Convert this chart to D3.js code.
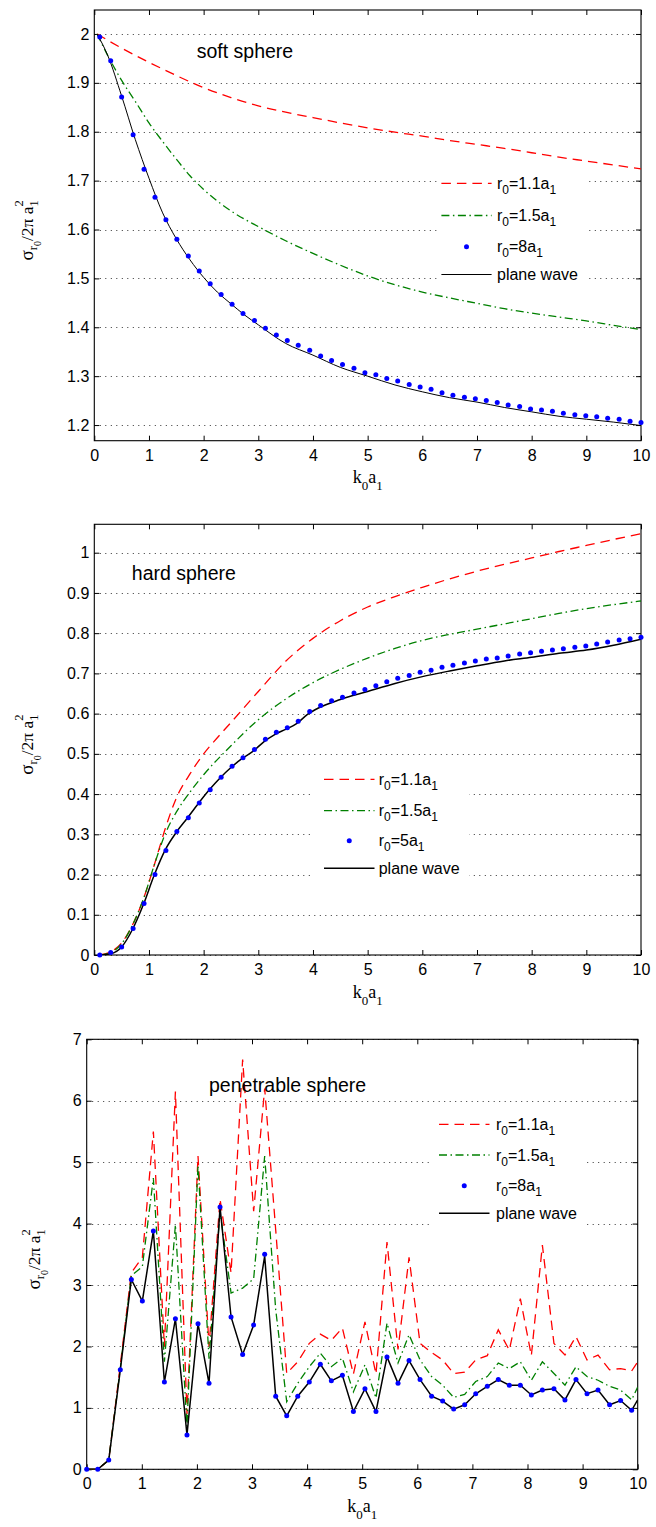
<!DOCTYPE html>
<html><head><meta charset="utf-8">
<script src="https://cdn.jsdelivr.net/npm/d3@7"></script>
<style>body{margin:0;background:#fff;overflow:hidden}</style>
</head><body>
<svg id="c" width="656" height="1527"></svg>
<script>
// ---------- shared ----------
const xTicks = [0,1,2,3,4,5,6,7,8,9,10];
const legendNames1 = ["r0=1.1a1","r0=1.5a1","r0=8a1","plane wave"];
const legendNames2 = ["r0=1.1a1","r0=1.5a1","r0=5a1","plane wave"];
const legendNames3 = ["r0=1.1a1","r0=1.5a1","r0=8a1","plane wave"];

// ---------- panel 1: soft sphere ----------
const yTicks1 = [1.2,1.3,1.4,1.5,1.6,1.7,1.8,1.9,2];
const yLabels1 = ["1.2","1.3","1.4","1.5","1.6","1.7","1.8","1.9","2"];
const redX1 = [0.05,0.5,1,1.5,2,2.5,3,3.5,4,4.5,5,5.5,6,6.5,7,7.5,8,8.5,9,9.5,10];
const redY1 = [2.0,1.971,1.942,1.915,1.89,1.87,1.853,1.84,1.829,1.818,1.808,1.799,1.791,1.782,1.774,1.766,1.757,1.748,1.74,1.732,1.724];
const greenX1 = [0.05,0.25,0.5,0.75,1,1.25,1.5,1.75,2,2.5,3,3.5,4,4.5,5,5.5,6,6.5,7,7.5,8,8.5,9,9.5,10];
const greenY1 = [2.0,1.955,1.905,1.862,1.818,1.78,1.744,1.71,1.682,1.638,1.606,1.577,1.551,1.527,1.505,1.487,1.472,1.46,1.449,1.438,1.429,1.421,1.413,1.404,1.395];
const dotX1 = [0.1,0.3,0.5,0.71,0.91,1.11,1.31,1.51,1.72,1.92,2.12,2.32,2.52,2.72,2.93,3.13,3.33,3.53,3.73,3.94,4.14,4.34,4.54,4.75,4.95,5.15,5.35,5.55,5.76,5.96,6.16,6.36,6.56,6.77,6.97,7.17,7.37,7.57,7.78,7.98,8.18,8.38,8.58,8.79,8.99,9.19,9.39,9.6,9.8,10.0];
const dotY1 = [1.994,1.945,1.871,1.794,1.723,1.666,1.620,1.580,1.546,1.515,1.489,1.467,1.447,1.428,1.414,1.398,1.384,1.373,1.363,1.353,1.341,1.332,1.324,1.316,1.307,1.303,1.295,1.290,1.283,1.278,1.273,1.266,1.261,1.257,1.254,1.250,1.246,1.241,1.238,1.233,1.231,1.228,1.224,1.221,1.219,1.217,1.214,1.212,1.208,1.205];
const planeX1 = [0.05,0.25,0.5,0.75,1,1.25,1.5,1.75,2,2.25,2.5,2.75,3,3.5,4,4.5,5,5.5,6,6.5,7,7.5,8,8.5,9,9.5,10];
const planeY1 = [2.0,1.955,1.873,1.784,1.705,1.634,1.581,1.538,1.502,1.472,1.448,1.425,1.405,1.367,1.343,1.318,1.300,1.282,1.268,1.256,1.247,1.236,1.227,1.218,1.212,1.206,1.199];

// ---------- panel 2: hard sphere ----------
const yTicks2 = [0,0.1,0.2,0.3,0.4,0.5,0.6,0.7,0.8,0.9,1];
const yLabels2 = ["0","0.1","0.2","0.3","0.4","0.5","0.6","0.7","0.8","0.9","1"];
const redX2 = [0.1,0.3,0.5,0.7,0.9,1.1,1.3,1.5,1.75,2,2.25,2.5,3,3.5,4,4.5,5,5.5,6,6.5,7,7.5,8,8.5,9,9.5,10];
const redY2 = [0,0.008,0.03,0.075,0.14,0.225,0.315,0.39,0.45,0.5,0.54,0.578,0.655,0.73,0.787,0.831,0.865,0.891,0.914,0.935,0.954,0.971,0.987,1.003,1.018,1.033,1.047];
const greenX2 = [0.1,0.3,0.5,0.7,0.9,1.1,1.3,1.5,1.75,2,2.5,3,3.5,4,4.5,5,5.5,6,6.5,7,7.5,8,8.5,9,9.5,10];
const greenY2 = [0,0.006,0.028,0.075,0.14,0.225,0.302,0.355,0.405,0.448,0.52,0.585,0.636,0.677,0.71,0.738,0.762,0.782,0.797,0.81,0.823,0.836,0.849,0.861,0.871,0.88];
const dotX2 = [0.1,0.3,0.5,0.71,0.91,1.11,1.31,1.51,1.72,1.92,2.12,2.32,2.52,2.72,2.93,3.13,3.33,3.53,3.73,3.94,4.14,4.34,4.54,4.75,4.95,5.15,5.35,5.55,5.76,5.96,6.16,6.36,6.56,6.77,6.97,7.17,7.37,7.57,7.78,7.98,8.18,8.38,8.58,8.79,8.99,9.19,9.39,9.6,9.8,10.0];
const dotY2 = [0,0.006,0.02,0.066,0.128,0.2,0.26,0.307,0.341,0.378,0.411,0.442,0.469,0.49,0.511,0.536,0.554,0.565,0.581,0.605,0.62,0.632,0.641,0.651,0.66,0.669,0.679,0.688,0.695,0.703,0.708,0.715,0.72,0.726,0.731,0.736,0.738,0.743,0.748,0.751,0.755,0.758,0.761,0.765,0.768,0.773,0.778,0.783,0.786,0.79];
const planeX2 = [0.1,0.3,0.5,0.7,0.9,1.1,1.3,1.5,1.7,1.9,2.1,2.3,2.5,2.7,2.9,3.1,3.3,3.5,3.7,3.9,4.1,4.5,5,5.5,6,6.5,7,7.5,8,8.5,9,9.5,10];
const planeY2 = [0,0.003,0.02,0.064,0.126,0.2,0.262,0.305,0.34,0.376,0.41,0.44,0.466,0.488,0.506,0.53,0.548,0.561,0.575,0.598,0.614,0.635,0.655,0.675,0.692,0.706,0.719,0.731,0.74,0.75,0.758,0.77,0.785];

// ---------- panel 3: penetrable sphere ----------
const yTicks3 = [0,1,2,3,4,5,6,7];
const yLabels3 = ["0","1","2","3","4","5","6","7"];
const kX3 = [0,0.2,0.4,0.61,0.81,1.01,1.21,1.41,1.61,1.82,2.02,2.22,2.42,2.62,2.83,3.03,3.23,3.43,3.63,3.83,4.04,4.24,4.44,4.64,4.84,5.05,5.25,5.45,5.65,5.85,6.05,6.26,6.46,6.66,6.86,7.06,7.27,7.47,7.67,7.87,8.07,8.27,8.48,8.68,8.88,9.08,9.28,9.49,9.69,9.89,10];
const redY3 = [0,0,0.15,1.7,3.2,3.45,5.5,2.0,6.15,0.9,5.1,2.0,4.4,3.2,6.67,4.2,6.2,3.9,1.56,1.75,2.05,2.2,2.1,2.3,1.55,2.4,1.55,3.7,1.95,3.45,2.05,1.9,1.78,1.56,1.58,1.78,1.85,2.27,1.94,2.78,1.85,3.65,2.05,1.86,2.16,1.78,1.86,1.62,1.64,1.6,1.75];
const greenY3 = [0,0,0.15,1.65,3.15,3.3,4.74,1.75,3.98,0.7,4.95,1.8,4.2,2.87,2.95,3.1,5.1,2.6,1.1,1.4,1.67,1.89,1.67,1.81,1.26,1.7,1.16,2.38,1.73,2.19,1.78,1.51,1.37,1.17,1.22,1.43,1.51,1.73,1.64,1.75,1.45,1.75,1.56,1.37,1.67,1.51,1.45,1.35,1.29,1.13,1.34];
const dotX3 = [0,0.2,0.4,0.61,0.81,1.01,1.21,1.41,1.61,1.82,2.02,2.22,2.42,2.62,2.83,3.03,3.23,3.43,3.63,3.83,4.04,4.24,4.44,4.64,4.84,5.05,5.25,5.45,5.65,5.85,6.05,6.26,6.46,6.66,6.86,7.06,7.27,7.47,7.67,7.87,8.07,8.27,8.48,8.68,8.88,9.08,9.28,9.49,9.69,9.89];
const dotY3 = [0,0,0.15,1.62,3.09,2.74,3.88,1.42,2.45,0.56,2.37,1.40,4.27,2.48,1.87,2.35,3.50,1.19,0.87,1.19,1.42,1.71,1.44,1.53,0.94,1.31,0.94,1.83,1.40,1.77,1.46,1.19,1.11,0.98,1.05,1.23,1.35,1.46,1.37,1.37,1.21,1.29,1.31,1.13,1.46,1.23,1.29,1.05,1.12,0.96];
const planeY3 = [0,0,0.15,1.62,3.09,2.74,3.88,1.42,2.45,0.56,2.37,1.40,4.27,2.48,1.87,2.35,3.47,1.19,0.87,1.19,1.42,1.71,1.44,1.53,0.94,1.31,0.94,1.83,1.40,1.77,1.46,1.19,1.11,0.98,1.05,1.23,1.35,1.46,1.37,1.37,1.21,1.29,1.31,1.13,1.46,1.23,1.29,1.05,1.12,0.96,1.13];

// ---------- drawing ----------
const svg = d3.select('#c');
svg.append('rect').attr('width',656).attr('height',1527).attr('fill','#fff');
const SANS = "'Liberation Sans', Arial, Helvetica, sans-serif";
const SERIF = "'Liberation Serif', 'Times New Roman', serif";
const RED = '#ff0000', GREEN = '#008000', BLUE = '#0000ff';
const DASH = '9.5,6', DASHDOT = '8,3.5,1.5,3.5';
const DOT_R = 2.5;

function zip(xs, ys){ return xs.map((x,i)=>[x, ys[i]]); }

function drawPanel(cfg, idx){
  const x = d3.scaleLinear().domain([0,10]).range([cfg.left, cfg.right]);
  const y = d3.scaleLinear().domain(cfg.yDomain).range([cfg.bottom, cfg.top]);
  const g = svg.append('g');
  const clipId = 'clip'+idx;
  svg.append('clipPath').attr('id', clipId).append('rect')
    .attr('x', cfg.left).attr('y', cfg.top).attr('width', cfg.right-cfg.left).attr('height', cfg.bottom-cfg.top);

  // dotted horizontal grid
  g.append('g').selectAll('line').data(cfg.yTicks).join('line')
    .attr('x1', cfg.left).attr('x2', cfg.right)
    .attr('y1', d=>Math.round(y(d))+0.5).attr('y2', d=>Math.round(y(d))+0.5)
    .attr('stroke','#333').attr('stroke-width',1).attr('stroke-dasharray','1,4.5');

  // axes
  const styleAxis = sel => {
    sel.attr('font-family', SANS).attr('font-size', 16);
    sel.select('.domain').remove();
    sel.selectAll('.tick line').attr('stroke','#000').attr('stroke-width',1);
    sel.selectAll('.tick text').attr('fill','#000');
  };
  g.append('g').attr('transform',`translate(0,${cfg.bottom})`)
    .call(d3.axisBottom(x).tickValues(xTicks).tickSizeInner(-5).tickSizeOuter(0).tickPadding(8.5).tickFormat(d3.format('d')))
    .call(styleAxis);
  g.append('g').attr('transform',`translate(0,${cfg.top})`)
    .call(d3.axisTop(x).tickValues(xTicks).tickSizeInner(-5).tickSizeOuter(0).tickFormat(''))
    .call(styleAxis);
  g.append('g').attr('transform',`translate(${cfg.left},0)`)
    .call(d3.axisLeft(y).tickValues(cfg.yTicks).tickSizeInner(-5).tickSizeOuter(0).tickPadding(5).tickFormat((d,i)=>cfg.yLabels[i]))
    .call(styleAxis);
  g.append('g').attr('transform',`translate(${cfg.right},0)`)
    .call(d3.axisRight(y).tickValues(cfg.yTicks).tickSizeInner(-5).tickSizeOuter(0).tickFormat(''))
    .call(styleAxis);

  // frame
  g.append('rect').attr('x', cfg.left).attr('y', cfg.top)
    .attr('width', cfg.right-cfg.left).attr('height', cfg.bottom-cfg.top)
    .attr('fill','none').attr('stroke','#000').attr('stroke-width',1.1);

  // series
  const plot = g.append('g').attr('clip-path', `url(#${clipId})`);
  const line = d3.line().x(d=>x(d[0])).y(d=>y(d[1])).curve(cfg.curve);
  plot.append('path').attr('d', line(cfg.red)).attr('fill','none').attr('stroke',RED)
    .attr('stroke-width',1.3).attr('stroke-dasharray',DASH);
  plot.append('path').attr('d', line(cfg.green)).attr('fill','none').attr('stroke',GREEN)
    .attr('stroke-width',1.3).attr('stroke-dasharray',DASHDOT);
  plot.append('path').attr('d', line(cfg.plane)).attr('fill','none').attr('stroke','#000')
    .attr('stroke-width',cfg.blackW);
  g.append('g').selectAll('circle').data(cfg.dots).join('circle')
    .attr('cx', d=>x(d[0])).attr('cy', d=>y(d[1])).attr('r', DOT_R).attr('fill', BLUE);

  // title text
  g.append('text').attr('x', cfg.title.x).attr('y', cfg.title.y)
    .attr('font-family', SANS).attr('font-size', 19.5).attr('fill','#000').text(cfg.title.text);

  // legend
  const L = cfg.legend;
  const lg = g.append('g');
  lg.append('rect').attr('x', L.box[0]).attr('y', L.box[1]).attr('width', L.box[2]).attr('height', L.box[3]).attr('fill','#fff');
  const styles = [{c:RED, d:DASH}, {c:GREEN, d:DASHDOT}, null, {c:'#000', d:null}];
  cfg.names.forEach((name,i)=>{
    const ry = L.rows[i];
    if (i===2){
      lg.append('circle').attr('cx',(L.x1+L.x2)/2).attr('cy',ry).attr('r',DOT_R).attr('fill',BLUE);
    } else {
      const ln = lg.append('line').attr('x1',L.x1).attr('x2',L.x2).attr('y1',ry).attr('y2',ry)
        .attr('stroke',styles[i].c).attr('stroke-width', i===3?cfg.blackW:1.3);
      if (styles[i].d) ln.attr('stroke-dasharray', styles[i].d);
    }
    const t = lg.append('text').attr('x', L.tx).attr('y', ry+5.5).attr('font-family',SANS).attr('font-size',16).attr('fill','#000');
    if (name === 'plane wave'){ t.text(name); }
    else {
      const m = name.match(/^r0=(.*)a1$/);
      t.append('tspan').text('r');
      t.append('tspan').attr('font-size',12).attr('dy',5).text('0');
      t.append('tspan').attr('font-size',16).attr('dy',-5).text('='+m[1]+'a');
      t.append('tspan').attr('font-size',12).attr('dy',5).text('1');
    }
  });

  // x label  k0a1
  const cx = (cfg.left+cfg.right)/2;
  const xl = g.append('text').attr('x', cx).attr('y', cfg.bottom+42.5).attr('text-anchor','middle')
    .attr('font-family',SERIF).attr('font-size',18).attr('fill','#000');
  xl.append('tspan').text('k');
  xl.append('tspan').attr('font-size',13).attr('dy',7).text('0');
  xl.append('tspan').attr('font-size',18).attr('dy',-7).text('a');
  xl.append('tspan').attr('font-size',13).attr('dy',7).text('1');

  // y label  σ_{r_0}/2π a_1^2
  const cy = (cfg.top+cfg.bottom)/2 + 5;
  const yl = g.append('text').attr('transform',`translate(${cfg.ylabX},${cy}) rotate(-90)`)
    .attr('text-anchor','middle').attr('font-family',SERIF).attr('font-size',19).attr('fill','#000');
  yl.append('tspan').text('σ');
  yl.append('tspan').attr('font-size',12.5).attr('dy',4).text('r');
  yl.append('tspan').attr('font-size',10).attr('dy',3.5).text('0');
  yl.append('tspan').attr('font-size',17.5).attr('dy',-7.5).text('/2π a');
  yl.append('tspan').attr('font-size',12.5).attr('dy',4.5).text('1');
  yl.append('tspan').attr('font-size',12.5).attr('dx',-6.3).attr('dy',-15).text('2');
}

drawPanel({
  left:94.3, right:641, top:10, bottom:440.7, yDomain:[1.168,2.049],
  yTicks:yTicks1, yLabels:yLabels1, curve:d3.curveMonotoneX, blackW:1,
  red:zip(redX1,redY1), green:zip(greenX1,greenY1), plane:zip(planeX1,planeY1), dots:zip(dotX1,dotY1),
  title:{x:196.7, y:58.3, text:'soft sphere'},
  names:legendNames1,
  legend:{box:[437,166,150,125], x1:441.4, x2:491.6, tx:497, rows:[183.3,215.5,246.7,274.5]},
  ylabX:33
},1);

drawPanel({
  left:94.3, right:641, top:524.3, bottom:955, yDomain:[0,1.0706],
  yTicks:yTicks2, yLabels:yLabels2, curve:d3.curveMonotoneX, blackW:1.5,
  red:zip(redX2,redY2), green:zip(greenX2,greenY2), plane:zip(planeX2,planeY2), dots:zip(dotX2,dotY2),
  title:{x:131.8, y:580, text:'hard sphere'},
  names:legendNames2,
  legend:{box:[310,764,159,120], x1:324, x2:374.5, tx:378.7, rows:[779.3,810.7,840.7,868.3]},
  ylabX:33
},2);

drawPanel({
  left:86.7, right:637.7, top:1039.3, bottom:1469.3, yDomain:[0,7],
  yTicks:yTicks3, yLabels:yLabels3, curve:d3.curveLinear, blackW:1.5,
  red:zip(kX3,redY3), green:zip(kX3,greenY3), plane:zip(kX3,planeY3), dots:zip(dotX3,dotY3),
  title:{x:209, y:1091.7, text:'penetrable sphere'},
  names:legendNames3,
  legend:{box:[433,1107,153,122], x1:439, x2:489.5, tx:496, rows:[1124.3,1155,1185.7,1213.3]},
  ylabX:40
},3);
</script>
</body></html>
